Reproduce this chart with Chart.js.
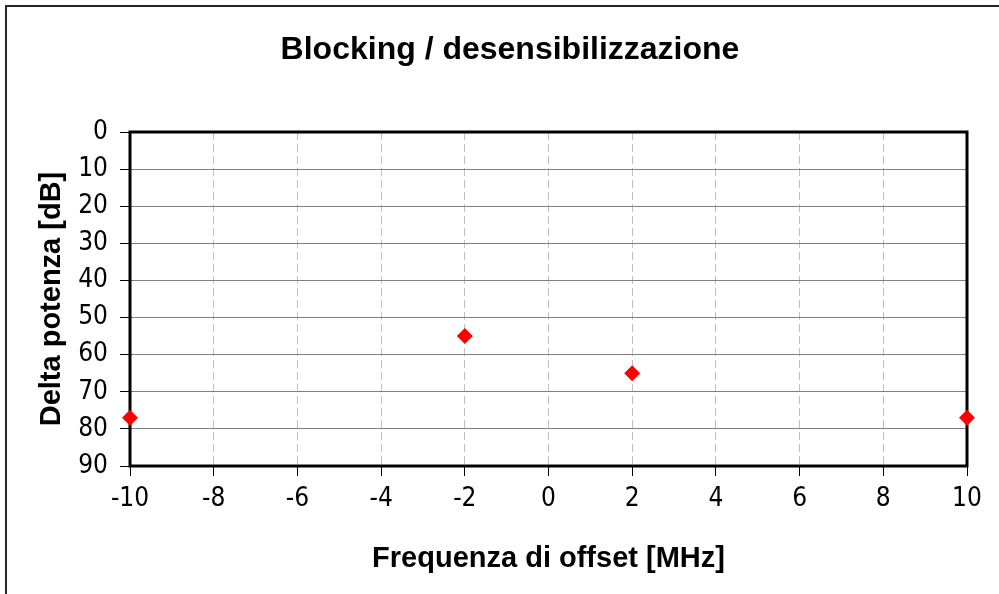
<!DOCTYPE html>
<html><head><meta charset="utf-8">
<script src="https://cdn.jsdelivr.net/npm/chart.js@4"></script>
<style>
html,body{margin:0;padding:0;background:#fff;}
#wrap{position:relative;width:999px;height:594px;overflow:hidden;background:#fff;}
#frame{position:absolute;left:5px;top:5px;width:1100px;height:700px;border-left:2px solid #262626;border-top:2px solid #262626;}
canvas{position:absolute;left:0;top:0;}
</style></head>
<body><div id="wrap"><div id="frame"></div><canvas id="c" width="999" height="594"></canvas></div>
<script>
const chartTitle = 'Blocking / desensibilizzazione';
const xAxisTitle = 'Frequenza di offset [MHz]';
const yAxisTitle = 'Delta potenza [dB]';
const offsetMHz = [-10, -2, 2, 10];
const deltaPowerDb = [77, 55, 65, 77];
const xTickValues = [-10, -8, -6, -4, -2, 0, 2, 4, 6, 8, 10];
const yTickValues = [0, 10, 20, 30, 40, 50, 60, 70, 80, 90];

const points = offsetMHz.map((x, i) => ({x: x, y: deltaPowerDb[i]}));

const plotFrame = {
  id: 'plotFrame',
  beforeDatasetsDraw(chart) {
    const {ctx, chartArea: a} = chart;
    ctx.save();
    ctx.strokeStyle = '#000';
    ctx.lineWidth = 3;
    ctx.strokeRect(a.left, a.top, a.right - a.left, a.bottom - a.top);
    ctx.restore();
  }
};

const tickFont = { family: "'DejaVu Sans Condensed', 'DejaVu Sans', sans-serif", size: 26 };
const titleFamily = "'Liberation Sans', Arial, sans-serif";

Chart.defaults.color = '#000';

new Chart(document.getElementById('c'), {
  type: 'scatter',
  data: {
    datasets: [{
      label: yAxisTitle,
      data: points,
      pointStyle: 'rectRot',
      pointRadius: 8,
      pointHoverRadius: 8,
      backgroundColor: '#ff0000',
      borderColor: '#ff0000',
      borderWidth: 0,
      clip: false
    }]
  },
  options: {
    responsive: false,
    animation: false,
    devicePixelRatio: 1,
    layout: { padding: { left: 53, right: 32, top: 0, bottom: 0 } },
    plugins: {
      legend: { display: false },
      tooltip: { enabled: false },
      title: {
        display: true,
        text: chartTitle,
        color: '#000',
        font: { family: titleFamily, size: 32, weight: 'bold', lineHeight: 1.2 },
        padding: { top: 31, bottom: 62.6 }
      }
    },
    scales: {
      x: {
        type: 'linear',
        min: -10, max: 10,
        afterBuildTicks: s => { s.ticks = xTickValues.map(v => ({value: v})); },
        afterFit: s => { s.height = 128; },
        grid: {
          color: '#c0c0c0', lineWidth: 1,
          tickColor: '#000', tickLength: 10, tickWidth: 1
        },
        border: { display: false, dash: [8, 4] },
        ticks: { font: tickFont, padding: 8, maxRotation: 0, color: '#000' },
        title: {
          display: true, text: xAxisTitle, color: '#000',
          font: { family: titleFamily, size: 29, weight: 'bold', lineHeight: 1.2 },
          padding: { top: 0, bottom: 18 }
        }
      },
      y: {
        type: 'linear',
        min: 0, max: 90,
        reverse: true,
        afterBuildTicks: s => { s.ticks = yTickValues.map(v => ({value: v})); },
        afterFit: s => { s.width = 77; },
        grid: {
          color: '#808080', lineWidth: 1,
          tickColor: '#000', tickLength: 10, tickWidth: 1
        },
        border: { display: false },
        ticks: { font: tickFont, padding: 12, color: '#000' },
        title: {
          display: true, text: yAxisTitle, color: '#000',
          font: { family: titleFamily, size: 29, weight: 'bold', lineHeight: 1.2 },
          padding: { top: -18.4, bottom: 0 }
        }
      }
    }
  },
  plugins: [plotFrame]
});
</script>
</body></html>
